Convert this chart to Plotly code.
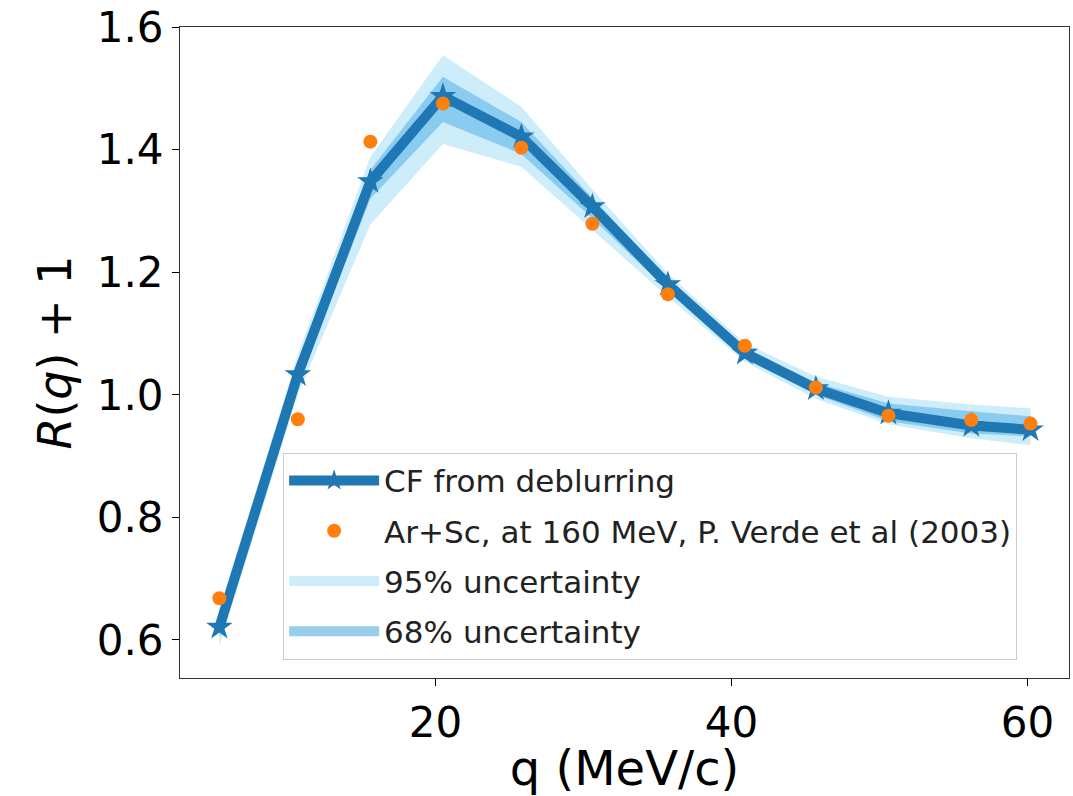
import plotly.graph_objects as go

# Data
q = [5.4, 10.7, 15.6, 20.5, 25.8, 30.6, 35.7, 40.9, 45.7, 50.6, 56.2, 60.2]
cf = [0.621, 1.033, 1.348, 1.487, 1.421, 1.307, 1.180, 1.068, 1.010, 0.970, 0.950, 0.943]
exp_q = [5.4, 10.7, 15.6, 20.5, 25.8, 30.6, 35.7, 40.9, 45.7, 50.6, 56.2, 60.2]
exp_val = [0.668, 0.960, 1.413, 1.475, 1.403, 1.279, 1.164, 1.080, 1.012, 0.966, 0.959, 0.953]
lo95 = [0.59, 1.00, 1.278, 1.409, 1.372, 1.270, 1.160, 1.054, 0.993, 0.952, 0.929, 0.918]
hi95 = [0.65, 1.065, 1.388, 1.554, 1.470, 1.335, 1.198, 1.084, 1.030, 0.997, 0.984, 0.978]
lo68 = [0.605, 1.015, 1.320, 1.445, 1.393, 1.288, 1.170, 1.060, 1.000, 0.957, 0.937, 0.932]
hi68 = [0.635, 1.050, 1.367, 1.519, 1.445, 1.322, 1.190, 1.076, 1.020, 0.986, 0.973, 0.965]

FONT = "DejaVu Sans"
C95 = "rgb(205,237,250)"
C68_PLOT = "rgba(110,190,235,0.7)"
C68_LEG = "rgb(150,206,236)"

fig = go.Figure()

# 95% band
fig.add_trace(go.Scatter(x=q, y=lo95, mode="lines", line=dict(width=0), showlegend=False,
                         hoverinfo="skip"))
fig.add_trace(go.Scatter(x=q, y=hi95, mode="lines", line=dict(width=0), fill="tonexty",
                         fillcolor=C95, showlegend=False))
# 68% band
fig.add_trace(go.Scatter(x=q, y=lo68, mode="lines", line=dict(width=0), showlegend=False,
                         hoverinfo="skip"))
fig.add_trace(go.Scatter(x=q, y=hi68, mode="lines", line=dict(width=0), fill="tonexty",
                         fillcolor=C68_PLOT, showlegend=False))
# CF line
fig.add_trace(go.Scatter(x=q, y=cf, mode="lines+markers", name="CF from deblurring",
                         legendgroup="a",
                         line=dict(color="#1f77b4", width=10),
                         marker=dict(symbol="star", size=20, color="#1f77b4")))
# experimental points
fig.add_trace(go.Scatter(x=exp_q, y=exp_val, mode="markers", legendgroup="b",
                         name="Ar+Sc, at 160 MeV, P. Verde et al (2003)",
                         marker=dict(symbol="circle", size=14, color="#ff7f0e")))
# legend entries for the bands (swatches)
fig.add_trace(go.Scatter(x=[None], y=[None], mode="lines", name="95% uncertainty",
                         legendgroup="c", line=dict(color=C95, width=22)))
fig.add_trace(go.Scatter(x=[None], y=[None], mode="lines", name="68% uncertainty",
                         legendgroup="d", line=dict(color=C68_LEG, width=22)))

fig.update_layout(
    width=1073, height=796,
    margin=dict(l=180, r=3, t=25, b=118),
    paper_bgcolor="white", plot_bgcolor="white",
    font=dict(family=FONT, color="black"),
    showlegend=True,
    legend=dict(x=0.116, y=0.346, xanchor="left", yanchor="top",
                bgcolor="rgba(255,255,255,0.8)", bordercolor="#cccccc", borderwidth=1,
                font=dict(size=31, family=FONT, color="#222222"),
                itemwidth=90, traceorder="grouped", tracegroupgap=7),
)
fig.update_xaxes(range=[2.74, 62.8], tickvals=[20, 40, 60], ticks="outside", ticklen=7,
                 tickcolor="black", showline=True, linecolor="#333333", linewidth=1.2,
                 mirror=True, showgrid=False, zeroline=False,
                 tickfont=dict(size=42, family=FONT),
                 title=dict(text="q (MeV/c)", font=dict(size=48, family=FONT), standoff=6))
fig.update_yaxes(range=[0.538, 1.6], tickvals=[0.6, 0.8, 1.0, 1.2, 1.4, 1.6],
                 tickformat=".1f", ticks="outside", ticklen=7,
                 tickcolor="black", showline=True, linecolor="#333333", linewidth=1.2,
                 mirror=True, showgrid=False, zeroline=False,
                 tickfont=dict(size=42, family=FONT),
                 title=dict(text="<i>R</i>(<i>q</i>) + 1", font=dict(size=46, family=FONT),
                            standoff=10))

fig.write_html("out.html")
